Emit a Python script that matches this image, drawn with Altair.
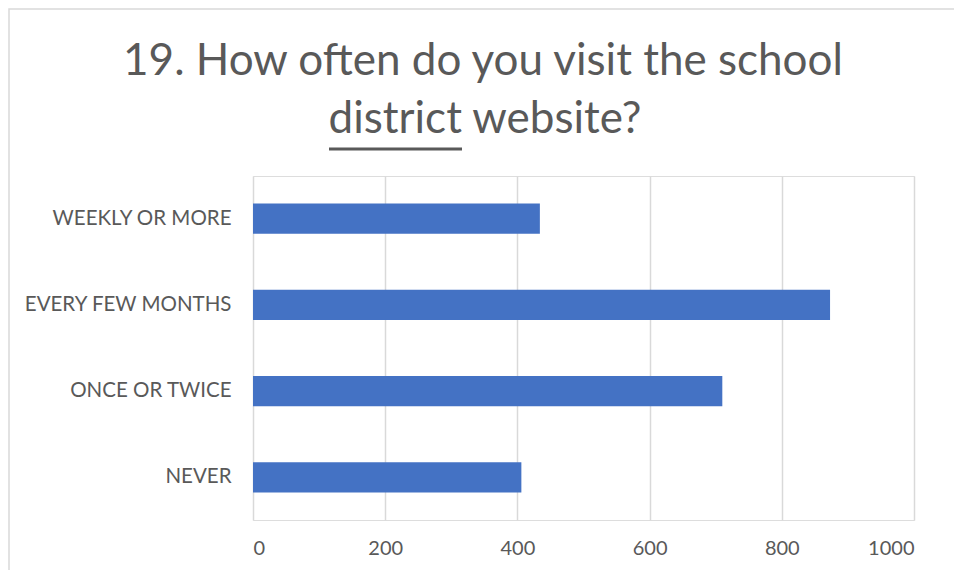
import altair as alt
import pandas as pd

categories = ["WEEKLY OR MORE", "EVERY FEW MONTHS", "ONCE OR TWICE", "NEVER"]
values = [434, 873, 710, 406]
x_ticks = [0, 200, 400, 600, 800, 1000]
title_lines = ["19. How often do you visit the school", "district website?"]

df = pd.DataFrame({"category": categories, "value": values})

W, H = 661, 344
FONT = "Lato"
GREY = "#595959"

bars = alt.Chart(df).mark_bar(color="#4472C4").encode(
    x=alt.X("value:Q", scale=alt.Scale(domain=[0, 1000], nice=False),
            axis=alt.Axis(values=x_ticks, format="d", title=None, grid=True, gridColor="#d9d9d9",
                          gridWidth=1.5, domain=False, ticks=False, labelPadding=18,
                          labelFontSize=20, labelColor=GREY, labelFont=FONT)),
    y=alt.Y("category:N", sort=categories,
            scale=alt.Scale(paddingInner=0.65, paddingOuter=0.32),
            axis=alt.Axis(title=None, grid=False, domain=False, ticks=False, labelPadding=22,
                          labelFontSize=20.5, labelColor=GREY, labelFont=FONT, labelLimit=400)),
)

# outer frame (decoration)
frame = alt.Chart(pd.DataFrame({"a": [0]})).mark_rect(
    fill="transparent", stroke="#d9d9d9", strokeWidth=1.5, clip=False
).encode(x=alt.value(-244), x2=alt.value(705), y=alt.value(-167), y2=alt.value(396))

title1 = alt.Chart(pd.DataFrame({"t": [title_lines[0]]})).mark_text(
    font=FONT, fontSize=44, color=GREY, align="center", baseline="alphabetic", clip=False
).encode(text="t:N", x=alt.value(230), y=alt.value(-101))

title2 = alt.Chart(pd.DataFrame({"t": [title_lines[1]]})).mark_text(
    font=FONT, fontSize=44, color=GREY, align="center", baseline="alphabetic", clip=False
).encode(text="t:N", x=alt.value(232), y=alt.value(-43))

underline = alt.Chart(pd.DataFrame({"a": [0]})).mark_rule(
    color=GREY, strokeWidth=3, clip=False
).encode(x=alt.value(76), x2=alt.value(209), y=alt.value(-27))

chart = alt.layer(frame, bars, title1, title2, underline).properties(
    width=W, height=H,
    autosize=alt.AutoSizeParams(type="none"),
    padding={"left": 245, "top": 168, "right": 40, "bottom": 50},
).configure_view(stroke="transparent", strokeWidth=0).configure(background="white")

chart.save("out.html", embed_options={"renderer": "svg", "actions": False})
